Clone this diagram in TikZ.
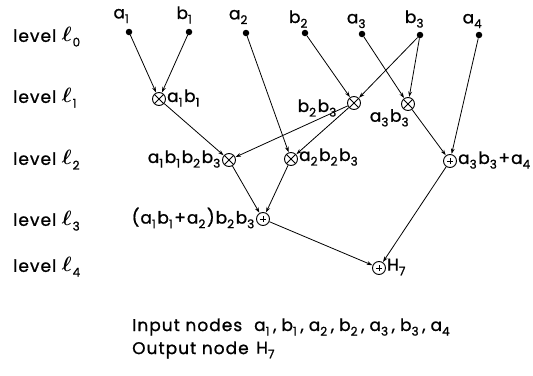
\documentclass[tikz,border=0pt]{standalone}
\usepackage{amsmath}
\usepackage{fontspec}
\setmainfont{Poppins}[LetterSpace=6,FakeBold=1]
\usetikzlibrary{arrows.meta}
\newcommand\subs[1]{\raisebox{-0.5ex}{\fontsize{12}{12}\selectfont #1}\kern1.6pt}
\newcommand\cm{\kern2pt,\kern5pt}
\newcommand\lvlsym[1]{{\fontsize{21}{21}\selectfont$\boldsymbol{\ell}$}\kern1pt\subs{#1}}
\begin{document}
\begin{tikzpicture}[x=1pt,y=-1pt,
  every node/.style={font=\fontsize{17}{19}\selectfont},
  dot/.style={circle,fill=black,inner sep=0pt,minimum size=6.5pt},
  otimes/.style={circle,draw,line width=0.9pt,inner sep=0pt,minimum size=13pt,
    path picture={\draw[line width=0.9pt] (path picture bounding box.north west)--(path picture bounding box.south east)
      (path picture bounding box.north east)--(path picture bounding box.south west);}},
  oplus/.style={circle,draw,line width=0.9pt,inner sep=0pt,minimum size=13pt,
    path picture={\draw[line width=1pt] ([xshift=-3pt]path picture bounding box.center)--([xshift=3pt]path picture bounding box.center)
      ([yshift=-3pt]path picture bounding box.center)--([yshift=3pt]path picture bounding box.center);}},
  edge/.style={-{Stealth[length=5.5pt,width=3.8pt]},line width=0.8pt,shorten >=0.3pt},
  lvl/.style={anchor=west,inner sep=0pt},
  lab/.style={inner sep=0pt}
]
\useasboundingbox (0,0) rectangle (533,375);
% inputs
\node[dot] (a1) at (129,32) {};
\node[dot] (b1) at (189,32) {};
\node[dot] (a2) at (246,33) {};
\node[dot] (b2) at (305,33) {};
\node[dot] (a3) at (362,34) {};
\node[dot] (b3) at (420,35) {};
\node[dot] (a4) at (479,35) {};
\node[lab] (la1) at (122,16) {a\subs{1}};
\node[lab] (lb1) at (185,15) {b\subs{1}};
\node[lab] (la2) at (239,17) {a\subs{2}};
\node[lab] (lb2) at (299,19) {b\subs{2}};
\node[lab] (la3) at (357,21) {a\subs{3}};
\node[lab] (lb3) at (415,19) {b\subs{3}};
\node[lab] (la4) at (473,21) {a\subs{4}};
% level labels
\node[lvl] (l0) at (13,37) {level \lvlsym{0}};
\node[lvl] (l1) at (13,98) {level \lvlsym{1}};
\node[lvl] (l2) at (13,160) {level \lvlsym{2}};
\node[lvl] (l3) at (13,221) {level \lvlsym{3}};
\node[lvl] (l4) at (13,267) {level \lvlsym{4}};
% operation nodes
\node[otimes] (m1) at (159,99) {};
\node[otimes] (m2) at (354,103) {};
\node[otimes] (m3) at (408,104) {};
\node[otimes] (m4) at (229,160) {};
\node[otimes] (m5) at (291,159) {};
\node[oplus] (p1) at (450,161) {};
\node[oplus] (p2) at (263,219) {};
\node[oplus] (h7) at (379,268) {};
% node labels
\node[lab,anchor=west] (tm1) at ([xshift=1pt,yshift=1pt]m1.east) {a\subs{1}b\subs{1}};
\node[lab,anchor=east] (tm2) at ([xshift=-9pt,yshift=-5pt]m2.west) {b\subs{2}b\subs{3}};
\node[lab,anchor=north] (tm3) at ([xshift=-18pt,yshift=2pt]m3.south) {a\subs{3}b\subs{3}};
\node[lab,anchor=east] (tm4) at ([xshift=0pt,yshift=1pt]m4.west) {a\subs{1}b\subs{1}b\subs{2}b\subs{3}};
\node[lab,anchor=west] (tm5) at ([xshift=1pt,yshift=2pt]m5.east) {a\subs{2}b\subs{2}b\subs{3}};
\node[lab,anchor=west] (tp1) at ([xshift=1pt,yshift=1pt]p1.east) {a\subs{3}b\subs{3}+a\subs{4}};
\node[lab,anchor=east] (tp2) at ([xshift=0pt,yshift=1pt]p2.west) {(a\subs{1}b\subs{1}+a\subs{2})b\subs{2}b\subs{3}};
\node[lab,anchor=west] (th7) at ([xshift=1pt,yshift=1pt]h7.east) {H\subs{7}};
% edges
\draw[edge] (a1) -- (m1);
\draw[edge] (b1) -- (m1);
\draw[edge] (a2) -- (m5);
\draw[edge] (b2) -- (m2);
\draw[edge] (a3) -- (m3);
\draw[edge] (b3) -- (m2);
\draw[edge] (b3) -- (m3);
\draw[edge] (a4) -- (p1);
\draw[edge] (m1) -- (m4);
\draw[edge] (m2) -- (m4);
\draw[edge] (m2) -- (m5);
\draw[edge] (m3) -- (p1);
\draw[edge] (m4) -- (p2);
\draw[edge] (m5) -- (p2);
\draw[edge] (p2) -- (h7);
\draw[edge] (p1) -- (h7);
% legend
\node[lab,anchor=west] (in) at (132,327) {Input nodes};
\node[lab,anchor=west] (inv) at (254,327) {a\subs{1}\cm b\subs{1}\cm a\subs{2}\cm b\subs{2}\cm a\subs{3}\cm b\subs{3}\cm a\subs{4}};
\node[lab,anchor=west] (out) at (132,350) {Output node};
\node[lab,anchor=west] (outv) at (256,350) {H\subs{7}};
\end{tikzpicture}
\end{document}
